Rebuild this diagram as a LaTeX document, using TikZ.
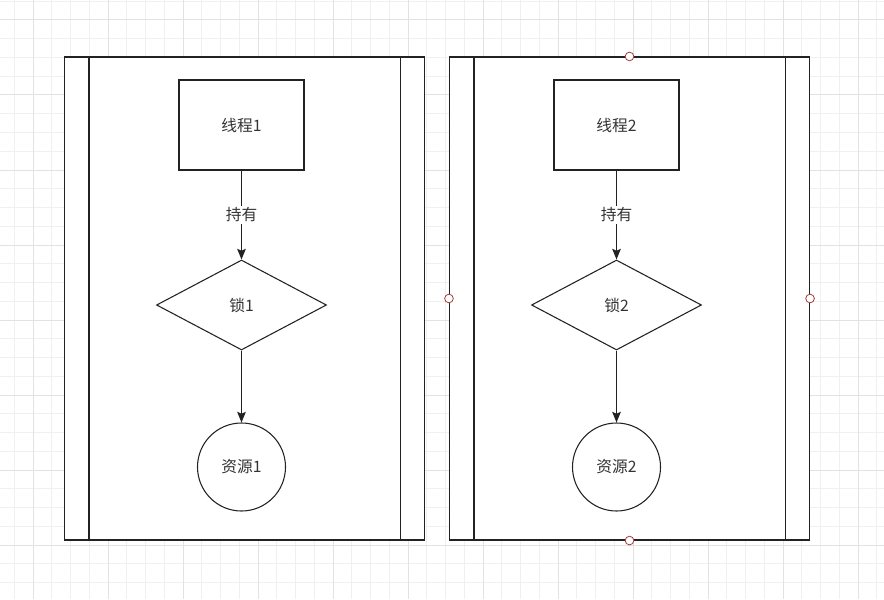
\documentclass[tikz,border=0pt]{standalone}
\usepackage{fontspec}
\setmainfont{Noto Sans CJK SC}
\usetikzlibrary{shapes.geometric,arrows.meta}
\definecolor{ln}{HTML}{222222}
\definecolor{tx}{HTML}{333333}
\definecolor{gminor}{HTML}{F0F0F0}
\definecolor{gmajor}{HTML}{E2E2E2}
\definecolor{hdl}{HTML}{A33A3A}
\tikzset{
  base/.style={draw=ln,line width=0.8pt,fill=white,inner sep=0pt,font=\fontsize{11.8}{14}\selectfont,text=tx},
  lane/.style={base,minimum width=270pt,minimum height=362.25pt},
  procbox/.style={base,minimum width=93.75pt,minimum height=67.5pt},
  lockbox/.style={base,diamond,minimum width=127.5pt,minimum height=67.5pt},
  resbox/.style={base,circle,minimum size=66pt},
  handle/.style={circle,draw=hdl,fill=white,line width=0.6pt,minimum size=6.5pt,inner sep=0pt},
  flow/.style={draw=ln,line width=0.8pt,-{Stealth[length=8pt,width=6.5pt,inset=1.5pt]}},
  lbl/.style={fill=white,inner sep=1.5pt,font=\fontsize{11.8}{14}\selectfont,text=tx}
}
\begin{document}
\begin{tikzpicture}[x=0.75pt,y=-0.75pt]
\useasboundingbox (0,0) rectangle (884,599);
\fill[white] (0,0) rectangle (884,599);
\foreach \i in {0,...,47} \draw[gminor,line width=0.75pt] ({14.25+18.75*\i},0) -- ({14.25+18.75*\i},599);
\foreach \i in {0,...,32} \draw[gminor,line width=0.75pt] (0,{1.25+18.75*\i}) -- (884,{1.25+18.75*\i});
\foreach \i in {0,...,11} \draw[gmajor,line width=0.75pt] ({33+75*\i},0) -- ({33+75*\i},599);
\foreach \i in {0,...,7} \draw[gmajor,line width=0.75pt] (0,{20+75*\i}) -- (884,{20+75*\i});

% left lane
\node[lane] (L) at (244.5,298.5) {};
\draw[ln,line width=0.8pt] ([xshift=18.75pt]L.north west) -- ([xshift=18.75pt]L.south west);
\draw[ln,line width=0.8pt] ([xshift=-18.75pt]L.north east) -- ([xshift=-18.75pt]L.south east);
\node[procbox] (t1) at (241.5,125) {线程1};
\node[lockbox] (k1) at (241.5,305) {锁1};
\node[resbox] (r1) at (241.5,467) {资源1};
\draw[flow] (t1.south) -- node[lbl] {持有} (k1.north);
\draw[flow] (k1.south) -- (r1.north);

% right lane
\node[lane] (R) at (629.5,298.5) {};
\draw[ln,line width=0.8pt] ([xshift=18.75pt]R.north west) -- ([xshift=18.75pt]R.south west);
\draw[ln,line width=0.8pt] ([xshift=-18.75pt]R.north east) -- ([xshift=-18.75pt]R.south east);
\node[procbox] (t2) at (616.5,125) {线程2};
\node[lockbox] (k2) at (616.5,305) {锁2};
\node[resbox] (r2) at (616.5,467) {资源2};
\draw[flow] (t2.south) -- node[lbl] {持有} (k2.north);
\draw[flow] (k2.south) -- (r2.north);

% selection handles
\node[handle] (hn) at (R.north) {};
\node[handle] (hs) at (R.south) {};
\node[handle] (hw) at (R.west) {};
\node[handle] (he) at (R.east) {};
\end{tikzpicture}
\end{document}
